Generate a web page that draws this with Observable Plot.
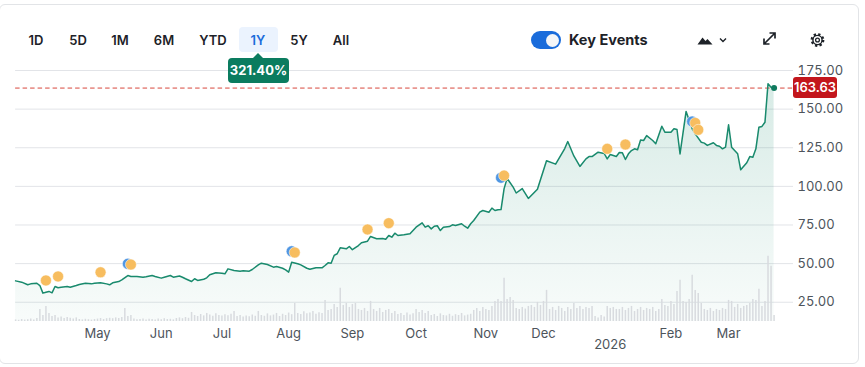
<!DOCTYPE html>
<html><head><meta charset="utf-8">
<script src="https://cdn.jsdelivr.net/npm/d3@7"></script>
<script src="https://cdn.jsdelivr.net/npm/@observablehq/plot@0.6"></script>
<style>
body{margin:0;background:#fff;font-family:Inter,"Noto Sans",sans-serif;}
#wrap{position:relative;width:865px;height:367px;overflow:hidden;background:#fff;}
#card{position:absolute;left:-1px;top:4px;width:860px;height:360px;border:1px solid #e2e4e7;border-radius:6px;box-sizing:border-box;}
#chart{position:absolute;left:0;top:0;}
.btn{position:absolute;top:31px;height:18px;line-height:18px;font-size:13px;font-weight:600;color:#1d2228;transform:translateX(-50%);white-space:nowrap;}
#sel{position:absolute;left:239px;top:27px;width:39px;height:25px;background:#ebf3fe;border-radius:4px;}
#badge{position:absolute;left:228px;top:58px;width:61px;height:25px;line-height:25px;background:#0b7c5f;border-radius:4px;color:#fff;font-size:13px;font-weight:700;text-align:center;}
#ptr{position:absolute;left:253px;top:53px;width:0;height:0;border-left:5px solid transparent;border-right:5px solid transparent;border-bottom:5px solid #0b7c5f;}
#toggle{position:absolute;left:531px;top:31px;width:30px;height:18px;border-radius:9px;background:#1a6cdb;}
#knob{position:absolute;left:15px;top:2.5px;width:13px;height:13px;border-radius:50%;background:#f4f6f8;}
#ke{position:absolute;left:569px;top:31px;line-height:18px;font-size:14.5px;font-weight:700;color:#1d2228;}
#icons{position:absolute;left:0;top:0;}
</style></head>
<body>
<div id="wrap">
  <div id="card"></div>
  <div id="chart"></div>
  <div id="sel"></div>
  <div id="buttons"></div>
  <div id="ptr"></div>
  <div id="badge">321.40%</div>
  <div id="toggle"><div id="knob"></div></div>
  <div id="ke">Key Events</div>
  <svg id="icons" width="865" height="60">
    <path d="M697.5 44.5 L702.5 37.5 L705.5 41 L707.5 39 L712.5 44.5 Z" fill="#1d2228"/>
    <polyline points="720,38.5 723,41.5 726,38.5" fill="none" stroke="#1d2228" stroke-width="1.4"/>
    <path d="M769.5 33 H775 V38.5 M775 33 L764 44 M764 38.5 V44 H769.5" fill="none" stroke="#1d2228" stroke-width="1.7"/>
    <circle cx="817.5" cy="40" r="5.6" fill="none" stroke="#1d2228" stroke-width="2.6" stroke-dasharray="2.2 2.2"/>
    <circle cx="817.5" cy="40" r="4.6" fill="none" stroke="#1d2228" stroke-width="1.4"/>
    <circle cx="817.5" cy="40" r="1.9" fill="none" stroke="#1d2228" stroke-width="1.3"/>
  </svg>
</div>
<script>
// ---------- data ----------
const rangeButtons = ["1D","5D","1M","6M","YTD","1Y","5Y","All"];
const holidays = ["2025-04-18","2025-05-26","2025-06-19","2025-07-04","2025-09-01","2025-11-27","2025-12-25","2026-01-01","2026-01-19","2026-02-16"];

const priceDates = [
 "2025-03-24","2025-03-26","2025-03-28","2025-03-31","2025-04-02","2025-04-03","2025-04-04","2025-04-07","2025-04-08","2025-04-09",
 "2025-04-10","2025-04-11","2025-04-14","2025-04-16","2025-04-17","2025-04-22","2025-04-23","2025-04-25","2025-04-29","2025-04-30",
 "2025-05-02","2025-05-06","2025-05-07","2025-05-08","2025-05-12","2025-05-13","2025-05-15","2025-05-16","2025-05-20","2025-05-22",
 "2025-05-23","2025-05-28","2025-05-29","2025-06-02","2025-06-03","2025-06-05","2025-06-06","2025-06-10","2025-06-11","2025-06-12",
 "2025-06-16","2025-06-17","2025-06-18","2025-06-23","2025-06-24","2025-06-25","2025-06-27","2025-07-01","2025-07-02","2025-07-03",
 "2025-07-08","2025-07-10","2025-07-11","2025-07-15","2025-07-16","2025-07-18","2025-07-21","2025-07-23","2025-07-25","2025-07-28",
 "2025-07-30","2025-07-31","2025-08-01","2025-08-04","2025-08-06","2025-08-07","2025-08-11","2025-08-12","2025-08-14","2025-08-18",
 "2025-08-19","2025-08-20","2025-08-21","2025-08-22","2025-08-25","2025-08-26","2025-08-28","2025-08-29","2025-09-02","2025-09-04",
 "2025-09-05","2025-09-09","2025-09-10","2025-09-12","2025-09-16","2025-09-17","2025-09-18","2025-09-19","2025-09-22","2025-09-23",
 "2025-09-25","2025-09-29","2025-10-01","2025-10-03","2025-10-06","2025-10-07","2025-10-08","2025-10-09","2025-10-10","2025-10-13",
 "2025-10-14","2025-10-16","2025-10-17","2025-10-20","2025-10-22","2025-10-23","2025-10-24","2025-10-27","2025-10-28","2025-10-30",
 "2025-10-31","2025-11-04","2025-11-05","2025-11-06","2025-11-07","2025-11-10","2025-11-11","2025-11-12","2025-11-14","2025-11-17",
 "2025-11-19","2025-11-21","2025-11-26","2025-12-02","2025-12-05","2025-12-10","2025-12-11","2025-12-15","2025-12-17","2025-12-19",
 "2025-12-22","2025-12-23","2025-12-26","2025-12-30","2025-12-31","2026-01-02","2026-01-06","2026-01-07","2026-01-08","2026-01-09",
 "2026-01-12","2026-01-13","2026-01-14","2026-01-15","2026-01-16","2026-01-20","2026-01-21","2026-01-23","2026-01-26","2026-01-28",
 "2026-01-29","2026-02-02","2026-02-03","2026-02-04","2026-02-05","2026-02-09","2026-02-11","2026-02-12","2026-02-17","2026-02-18",
 "2026-02-19","2026-02-23","2026-02-24","2026-02-25","2026-02-26","2026-02-27","2026-03-02","2026-03-03","2026-03-05","2026-03-06",
 "2026-03-10","2026-03-11","2026-03-12","2026-03-13","2026-03-16","2026-03-17","2026-03-18","2026-03-19","2026-03-20","2026-03-23"];
const priceValues = [
 38.83,38.0,36.3,36.9,37.3,35.8,30.9,31.5,32.0,31.1,
 35.2,34.4,34.7,35.2,34.7,35.8,36.5,37.3,36.9,37.3,
 37.6,36.9,36.3,37.6,38.4,39.5,42.3,41.7,41.7,41.2,
 41.5,42.3,41.7,40.6,41.2,42.3,41.2,42.0,41.2,40.2,
 38.4,40.2,39.1,39.9,40.8,42.8,44.1,43.8,43.4,46.6,
 45.6,45.1,45.4,45.1,46.2,49.2,50.3,49.4,47.7,48.1,
 47.0,46.0,44.5,50.9,49.9,49.2,47.0,46.4,47.3,47.3,
 48.8,50.5,50.3,55.3,56.4,60.2,59.6,61.1,59.0,61.7,
 63.5,64.5,67.6,66.1,66.3,65.8,68.2,67.1,69.7,68.2,
 68.7,69.3,73.6,76.4,73.6,74.5,72.5,74.2,74.5,71.4,
 73.6,74.0,75.1,74.7,75.8,74.2,72.9,75.8,77.9,83.3,
 84.4,83.3,85.9,84.4,84.8,85.0,98.4,105.2,99.5,95.7,
 98.6,92.2,98.2,116.6,114.4,124.5,129.0,119.7,112.9,117.8,
 119.3,119.3,122.1,121.3,117.8,120.6,119.3,121.9,121.7,117.4,
 121.1,123.2,124.3,123.7,130.0,129.7,132.9,129.7,127.6,138.9,
 135.1,135.1,137.3,136.8,121.0,148.5,137.3,134.0,128.6,128.0,
 126.5,128.2,126.5,126.0,124.3,125.4,139.9,125.4,121.1,110.7,
 115.3,119.3,118.9,124.3,138.3,138.8,141.5,166.4,164.2,163.63];

// volume (millions of shares), one value per trading day from 2025-03-24 to 2026-03-23
const volumes = [
 0.8,0.6,1.0,0.7,0.9,1.2,0.8,1.5,
 6,3,7.5,4,2.5,3,
 1.8,2.2,1.5,2.0,1.6,1.3,1.8,
 1.0,0.8,1.1,0.9,0.7,1.0,
 1.2,1.5,1.0,1.4,1.6,1.4,1.8,1.5,2.0,
 6.5,2.5,3,
 1.2,0.9,1.0,1.3,0.8,1.1,1.0,0.7,1.2,0.9,1.4,1.0,1.1,0.8,
 1.5,1.8,1.4,2.0,1.6,
 4.5,
 3.0,2.5,3.5,2.8,4.0,3.2,2.6,3.8,3.0,2.7,3.4,2.9,3.6,
 5,
 2.5,3.0,2.2,2.8,2.4,3.2,2.6,
 5,
 3.0,2.6,3.8,2.8,3.2,4.0,2.5,3.6,3.0,4.2,3.4,
 9,
 4.0,3.5,4.8,3.8,4.2,5.0,3.6,4.4,4.0,
 10.5,5.5,6.0,8.5,7,16.5,
 8.0,9.0,7.0,8.5,9,
 6.0,5.5,6.5,5.0,
 10,
 6.0,5.0,6.5,4.5,5.5,6.0,4.0,5.0,
 3.5,4.0,3.0,4.2,3.2,3.8,
 6,4.5,5.5,4.0,5.0,
 3.0,3.5,2.5,3.8,3.0,2.8,3.6,2.6,3.4,3.0,4.0,2.8,3.2,3.6,
 5.5,6.5,5.0,7.0,6.0,5.5,7.5,
 10,11,10,21.5,11,12,10.5,
 6.5,6.0,7.0,6.2,7.5,8.0,
 7.0,9.5,8.0,10,15.5,
 6.0,7.0,5.5,7.5,6.5,5.0,7.0,6.0,9,
 6.5,7.5,6.0,7.0,6.5,7.5,
 2.5,1.8,3.0,2.2,
 7.5,6.5,7.0,6.0,
 6.0,7.0,5.5,6.5,7.5,5.0,6.0,7.0,5.5,6.5,6.0,7.0,5.0,6.0,
 11,8,7.5,10,8.5,
 15,20.5,10,9.5,11,23,15.5,14,9,
 6.0,5.5,6.5,5.0,6.0,5.5,6.5,6.0,
 10.5,10,7.0,8.5,6.5,7.5,8.0,9.0,
 11,10.5,16,7.5,10,32.5,27.5,3];

// key events
const earningsDates  = ["2025-04-07","2025-04-11","2025-05-02","2025-05-16","2025-08-05","2025-09-09","2025-09-18","2025-11-11","2025-12-31","2026-01-09","2026-02-12","2026-02-13"];
const earningsLevels = [39.1,41.7,44.4,49.4,57.2,72.1,76.2,107.0,124.3,127.1,141.1,136.6];
const otherDates  = ["2025-05-15","2025-08-04","2025-11-10","2026-02-11"];
const otherLevels = [49.9,58.0,105.6,142.0];

const yTicks = [25,50,75,100,125,150,175];
const yMin = 12.54, yMax = 175;
const volMax = 125;          // volume value reaching the top of the price axis
const lastPrice = 163.63;

// ---------- build ----------
const fmt = d3.utcFormat("%Y-%m-%d");
const tradingDays = d3.utcDays(new Date(Date.UTC(2025,2,24)), new Date(Date.UTC(2026,2,24)))
  .filter(d => d.getUTCDay() % 6 !== 0 && !holidays.includes(fmt(d)));
const dayIndex = new Map(tradingDays.map((d,i) => [fmt(d), i]));

const price = priceDates.map((d,k) => ({i: dayIndex.get(d), v: priceValues[k]}));
const vol = volumes.map((v,i) => ({i, v}));
const earn = earningsDates.map((d,k) => ({i: dayIndex.get(d), v: earningsLevels[k]}));
const other = otherDates.map((d,k) => ({i: dayIndex.get(d), v: otherLevels[k]}));

// month ticks: first trading day of each month (from May), Jan replaced by the year
const monthTicks = [], monthLabel = new Map();
tradingDays.forEach((d,i) => {
  if (i === 0) return;
  if (d.getUTCMonth() !== tradingDays[i-1].getUTCMonth()) {
    if (d.getUTCMonth() === 3 && d.getUTCFullYear() === 2025) return;
    monthTicks.push(i);
    monthLabel.set(i, d.getUTCMonth() === 0 ? "" : d3.utcFormat("%b")(d));
  }
});
const yearTick = monthTicks.find(i => tradingDays[i].getUTCMonth() === 0);

const ns = "http://www.w3.org/2000/svg";
function gradientDefs() {
  const defs = document.createElementNS(ns, "defs");
  defs.innerHTML = `<linearGradient id="areaGrad" x1="0" y1="0" x2="0" y2="1">
    <stop offset="0" stop-color="#178a6c" stop-opacity="0.17"/>
    <stop offset="1" stop-color="#178a6c" stop-opacity="0.03"/></linearGradient>`;
  return defs;
}
function priceTag(index, scales, values, dimensions) {
  const g = document.createElementNS(ns, "g");
  const y = scales.y(lastPrice);
  const x0 = dimensions.width - dimensions.marginRight;
  g.innerHTML = `<rect x="${x0}" y="${y-10.5}" width="44" height="21" rx="3" fill="#c3161c"/>
   <text x="${x0+22}" y="${y}" dy="0.35em" text-anchor="middle" fill="#fff" font-size="13" font-weight="600">${lastPrice.toFixed(2)}</text>`;
  return g;
}

const plot = Plot.plot({
  width: 865, height: 367,
  marginTop: 70, marginBottom: 46, marginLeft: 15.1, marginRight: 72,
  style: {fontFamily: "Inter, 'Noto Sans', sans-serif", fontSize: "13px", color: "#4d545b", background: "transparent", overflow: "visible"},
  x: {type: "linear", domain: [0, 256.4], ticks: monthTicks, tickFormat: i => monthLabel.get(i), tickSize: 0, tickPadding: 7, label: null},
  y: {domain: [yMin, yMax], axis: "right", ticks: yTicks, tickFormat: d3.format(".2f"), tickSize: 0, tickPadding: 4, label: null},
  marks: [
    gradientDefs,
    Plot.ruleY(yTicks, {stroke: "#e2e4e8", strokeWidth: 1}),
    Plot.areaY(price, {x: "i", y1: yMin, y2: "v", fill: "url(#areaGrad)"}),
    Plot.ruleX(vol, {x: "i", y1: yMin, y2: d => yMin + d.v * (yMax - yMin) / volMax, stroke: "#d8dbdf", strokeWidth: 1.5}),
    Plot.ruleY([lastPrice], {stroke: "#d8473d", strokeWidth: 1, strokeDasharray: "4.5,3"}),
    Plot.line(price, {x: "i", y: "v", stroke: "#198a6d", strokeWidth: 1.5}),
    Plot.dot(other, {x: "i", y: "v", r: 5.5, fill: "#4f96e3", stroke: "#fff", strokeWidth: 0.5}),
    Plot.dot(earn, {x: "i", y: "v", r: 5.5, fill: "#f7bd5f", stroke: "#fff", strokeWidth: 0.5}),
    Plot.dot(price.slice(-1), {x: "i", y: "v", r: 3, fill: "#0f7a5e"}),
    Plot.text([yearTick], {x: d => d, frameAnchor: "bottom", dy: 27, text: () => "2026", fill: "#4d545b", fontSize: 13}),
    priceTag
  ]
});
document.getElementById("chart").appendChild(plot);

// range buttons
const btnX = [36,78,120,164,213,258,299,341];
const bc = document.getElementById("buttons");
rangeButtons.forEach((b,k) => {
  const el = document.createElement("div");
  el.className = "btn"; el.textContent = b; el.style.left = btnX[k] + "px";
  if (b === "1Y") el.style.color = "#1a6cdb";
  bc.appendChild(el);
});
</script>
</body></html>
